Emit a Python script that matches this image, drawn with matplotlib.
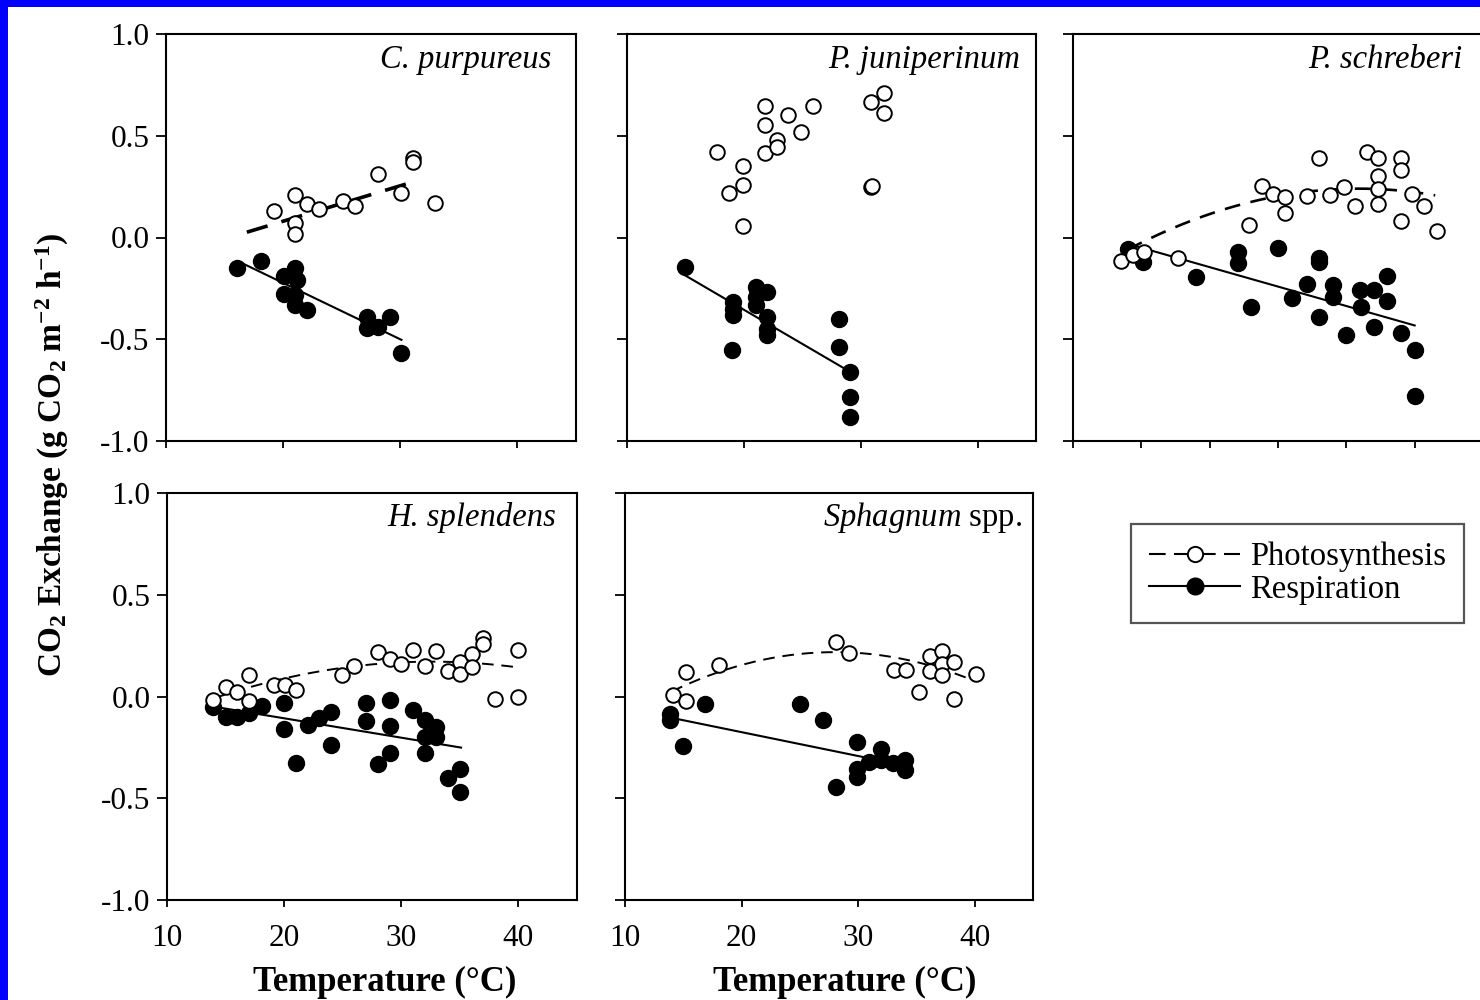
import numpy as np
import matplotlib
matplotlib.use('Agg')
import matplotlib.pyplot as plt
from matplotlib.lines import Line2D
from matplotlib.patches import Rectangle

plt.rcParams['font.family'] = ['Liberation Serif', 'DejaVu Serif']
plt.rcParams['mathtext.fontset'] = 'custom'
plt.rcParams['mathtext.rm'] = 'Liberation Serif:bold'
plt.rcParams['mathtext.it'] = 'Liberation Serif:italic'
plt.rcParams['mathtext.bf'] = 'Liberation Serif:bold'

# ---------------- data ----------------
species = ["C. purpureus", "P. juniperinum", "P. schreberi", "H. splendens", "$\\mathit{Sphagnum}$ spp."]

# C. purpureus
cp_photo_x = [19.2, 21.0, 21.0, 21.0, 22.0, 23.1, 25.1, 26.1, 28.1, 30.1, 31.1, 31.1, 33.0]
cp_photo_y = [0.13, 0.21, 0.07, 0.015, 0.165, 0.14, 0.18, 0.155, 0.31, 0.22, 0.39, 0.37, 0.17]
cp_resp_x = [16.1, 18.1, 20.1, 21.0, 21.2, 20.1, 21.0, 21.0, 22.0, 27.2, 27.2, 28.1, 29.1, 30.1]
cp_resp_y = [-0.15, -0.116, -0.19, -0.15, -0.21, -0.28, -0.285, -0.33, -0.354, -0.39, -0.445, -0.44, -0.39, -0.57]
cp_photo_fit = [0.01742, -0.2684]
cp_photo_range = [16.9, 31.65]
cp_resp_fit = [-0.0277, 0.3308]
cp_resp_range = [16.6, 30.1]

# P. juniperinum
pj_photo_x = [17.7, 18.7, 19.9, 19.9, 19.9, 21.8, 21.8, 21.8, 22.8, 22.8, 23.8, 24.9, 25.9, 30.9, 32.0, 32.0, 30.9, 31.0]
pj_photo_y = [0.42, 0.22, 0.35, 0.26, 0.056, 0.647, 0.555, 0.416, 0.48, 0.447, 0.60, 0.52, 0.645, 0.665, 0.71, 0.61, 0.247, 0.255]
pj_resp_x = [15.0, 19.1, 19.1, 19.1, 19.0, 21.0, 21.0, 21.0, 22.0, 22.0, 22.0, 22.0, 28.1, 28.1, 29.1, 29.1, 29.1]
pj_resp_y = [-0.143, -0.318, -0.35, -0.383, -0.552, -0.244, -0.293, -0.334, -0.27, -0.39, -0.45, -0.48, -0.40, -0.54, -0.66, -0.785, -0.883]
pj_resp_fit = [-0.03356, 0.3163]
pj_resp_range = [15.0, 28.5]

# P. schreberi
ps_photo_x = [13.5, 14.4, 15.2, 17.7, 22.9, 23.8, 24.6, 25.5, 25.5, 27.1, 28.0, 28.8, 29.8, 30.6,
              31.5, 32.3, 32.3, 32.3, 32.3, 34.0, 34.0, 34.0, 34.8, 35.7, 36.6]
ps_photo_y = [-0.116, -0.088, -0.069, -0.10, 0.062, 0.255, 0.215, 0.198, 0.12, 0.203, 0.39, 0.21, 0.25, 0.157,
              0.42, 0.39, 0.30, 0.236, 0.165, 0.39, 0.333, 0.08, 0.215, 0.154, 0.034]
ps_resp_x = [14.0, 15.1, 19.0, 22.1, 22.1, 23.0, 25.0, 26.0, 27.1, 28.0, 28.0, 28.0, 29.0, 29.0, 30.0,
             31.0, 31.1, 32.0, 32.0, 33.0, 33.0, 34.0, 35.0, 35.0]
ps_resp_y = [-0.056, -0.118, -0.195, -0.072, -0.124, -0.34, -0.052, -0.298, -0.23, -0.10, -0.12, -0.39, -0.232, -0.293, -0.48,
             -0.26, -0.34, -0.26, -0.44, -0.19, -0.313, -0.47, -0.552, -0.78]
ps_photo_fit = [-0.00105, 0.0649, -0.7628]
ps_photo_range = [14.0, 36.5]
ps_resp_fit = [-0.0191, 0.2363]
ps_resp_range = [14.0, 35.0]

# H. splendens
hs_photo_x = [13.9, 15.0, 16.0, 17.0, 17.0, 19.1, 20.1, 21.0, 24.9, 26.0, 28.0, 29.0, 30.0, 31.0, 32.0, 33.0,
              34.0, 35.0, 35.0, 36.0, 36.0, 37.0, 37.0, 38.0, 40.0, 40.0]
hs_photo_y = [-0.016, 0.046, 0.024, 0.106, -0.023, 0.057, 0.057, 0.03, 0.106, 0.148, 0.217, 0.184, 0.16, 0.23, 0.148, 0.225,
              0.127, 0.168, 0.11, 0.209, 0.144, 0.287, 0.26, -0.011, 0.228, 0.0]
hs_resp_x = [13.9, 15.0, 16.0, 17.0, 18.1, 20.0, 20.0, 21.0, 22.0, 23.0, 24.0, 24.0, 27.0, 27.0, 28.0, 29.0, 29.0, 29.0,
             31.0, 32.0, 32.0, 32.0, 33.0, 33.0, 34.0, 35.0, 35.0]
hs_resp_y = [-0.052, -0.10, -0.10, -0.08, -0.049, -0.033, -0.158, -0.326, -0.142, -0.106, -0.077, -0.24, -0.031, -0.122, -0.33, -0.016, -0.147, -0.277,
             -0.064, -0.117, -0.20, -0.276, -0.15, -0.20, -0.40, -0.354, -0.468]
hs_photo_fit = [-0.000521, 0.03396, -0.3821]
hs_photo_range = [14.0, 40.0]
hs_resp_fit = [-0.00953, 0.0835]
hs_resp_range = [13.9, 35.1]

# Sphagnum spp.
sp_photo_x = [14.1, 15.2, 15.2, 18.1, 28.1, 29.2, 33.1, 34.1, 35.2, 36.2, 37.2, 36.2, 37.2, 37.2, 38.2, 38.2, 40.1]
sp_photo_y = [0.005, 0.12, -0.02, 0.155, 0.27, 0.214, 0.132, 0.132, 0.021, 0.20, 0.225, 0.127, 0.16, 0.106, 0.168, -0.011, 0.11]
sp_resp_x = [13.9, 13.9, 15.0, 16.9, 25.0, 27.0, 28.1, 29.9, 29.9, 29.9, 30.9, 32.0, 32.0, 33.0, 34.0, 34.0]
sp_resp_y = [-0.088, -0.117, -0.245, -0.036, -0.036, -0.117, -0.444, -0.223, -0.354, -0.398, -0.321, -0.256, -0.313, -0.326, -0.313, -0.359]
sp_photo_fit = [-0.000987, 0.05527, -0.5558]
sp_photo_range = [14.0, 40.0]
sp_resp_fit = [-0.01172, 0.0592]
sp_resp_range = [14.1, 30.4]

y_ticks = [-1.0, -0.5, 0.0, 0.5, 1.0]
y_ticklabels = ["-1.0", "-0.5", "0.0", "0.5", "1.0"]
x_ticks = [10, 20, 30, 40]
x_ticklabels = ["10", "20", "30", "40"]
x_ticks_ps = [10, 15, 20, 25, 30, 35, 40]

legend_labels = ["Photosynthesis", "Respiration"]
x_label = "Temperature (\u00b0C)"
y_label = "CO$_2$ Exchange (g CO$_2$ m$^{-2}$ h$^{-1}$)"

# ---------------- figure ----------------
W, H = 1480, 1000
fig = plt.figure(figsize=(W / 100, H / 100), dpi=100)
fig.patch.set_facecolor('white')


def px_axes(left, top, right, bottom):
    return fig.add_axes([left / W, 1 - bottom / H, (right - left) / W, (bottom - top) / H])


DASH = (0, (6, 4))


def draw(ax, px, py, rx, ry, pfit, prange, rfit, rrange, plw=1.4):
    if pfit is not None:
        xs = np.linspace(prange[0], prange[1], 200)
        ax.plot(xs, np.polyval(pfit, xs), color='black', lw=plw, ls=DASH, zorder=2)
    xs = np.linspace(rrange[0], rrange[1], 200)
    ax.plot(xs, np.polyval(rfit, xs), color='black', lw=1.5, zorder=2)
    ax.plot(rx, ry, 'o', ms=11.5, mfc='black', mec='black', ls='none', zorder=3)
    ax.plot(px, py, 'o', ms=10.5, mfc='white', mec='black', mew=1.4, ls='none', zorder=4)


def style(ax, xlim, xticks, show_xlabels, show_ylabels):
    ax.set_xlim(*xlim)
    ax.set_ylim(-1, 1)
    ax.set_yticks(y_ticks)
    ax.set_xticks(xticks)
    if show_ylabels:
        ax.set_yticklabels(y_ticklabels)
    else:
        ax.set_yticklabels([])
    if show_xlabels:
        ax.set_xticklabels(x_ticklabels)
    else:
        ax.set_xticklabels([])
    ax.tick_params(axis='y', direction='out', length=7, width=1.3, labelsize=22.5, pad=5)
    ax.tick_params(axis='x', direction='out', length=5, width=1.3, labelsize=22.5, pad=12)
    for sp in ax.spines.values():
        sp.set_linewidth(1.5)
        sp.set_color('black')
    ax.set_facecolor('white')


ax1 = px_axes(166, 34, 576, 441)
ax2 = px_axes(627, 34, 1036, 441)
ax3 = px_axes(1073, 34, 1483, 441)
ax4 = px_axes(167, 493, 577, 900)
ax5 = px_axes(625, 493, 1033, 900)

draw(ax1, cp_photo_x, cp_photo_y, cp_resp_x, cp_resp_y, cp_photo_fit, cp_photo_range, cp_resp_fit, cp_resp_range, plw=2.6)
draw(ax2, pj_photo_x, pj_photo_y, pj_resp_x, pj_resp_y, None, None, pj_resp_fit, pj_resp_range)
draw(ax3, ps_photo_x, ps_photo_y, ps_resp_x, ps_resp_y, ps_photo_fit, ps_photo_range, ps_resp_fit, ps_resp_range, plw=1.9)
draw(ax4, hs_photo_x, hs_photo_y, hs_resp_x, hs_resp_y, hs_photo_fit, hs_photo_range, hs_resp_fit, hs_resp_range)
draw(ax5, sp_photo_x, sp_photo_y, sp_resp_x, sp_resp_y, sp_photo_fit, sp_photo_range, sp_resp_fit, sp_resp_range)

style(ax1, (10, 45), x_ticks, False, True)
style(ax2, (10, 45), x_ticks, False, False)
style(ax3, (10, 40), x_ticks_ps, False, False)
style(ax4, (10, 45), x_ticks, True, True)
style(ax5, (10, 45), x_ticks, True, False)

title_pos = [(0.939, 0.936), (0.961, 0.936), (0.949, 0.936), (0.949, 0.939), (0.973, 0.939)]
for ax, name, (tx, ty) in zip([ax1, ax2, ax3, ax4, ax5], species, title_pos):
    style_kw = {} if name.startswith('$') else {'fontstyle': 'italic'}
    ax.text(tx, ty, name, transform=ax.transAxes, ha='right', va='center', fontsize=23.5, **style_kw)

# axis labels
fig.text(385 / W, 1 - 982 / H, x_label, ha='center', va='center', fontsize=25, fontweight='bold')
fig.text(845 / W, 1 - 982 / H, x_label, ha='center', va='center', fontsize=25, fontweight='bold')
fig.text(52 / W, 1 - 455 / H, y_label, ha='center', va='center', rotation=90, fontsize=24, fontweight='bold')

# legend
h_photo = Line2D([], [], color='black', lw=1.5, ls=(0, (8, 4)), marker='o', ms=11, mfc='white', mec='black', mew=1.4)
h_resp = Line2D([], [], color='black', lw=1.5, marker='o', ms=12, mfc='black', mec='black')
leg = fig.legend([h_photo, h_resp], legend_labels, loc='upper left',
                 bbox_to_anchor=(1131 / W, 1 - 524 / H), bbox_transform=fig.transFigure,
                 fontsize=23.5, frameon=True, fancybox=False, framealpha=1, borderaxespad=0,
                 borderpad=0.55, labelspacing=0.05, handlelength=2.8, handletextpad=0.3)
leg.get_frame().set_edgecolor('#555555')
leg.get_frame().set_linewidth(1.6)

# blue frame strips
fig.patches.append(Rectangle((0, 0), 8 / W, 1, transform=fig.transFigure, facecolor='#0000ff', edgecolor='none', zorder=10))
fig.patches.append(Rectangle((0, 1 - 7 / H), 1, 7 / H, transform=fig.transFigure, facecolor='#0000ff', edgecolor='none', zorder=10))

fig.savefig('out.png', dpi=100)
